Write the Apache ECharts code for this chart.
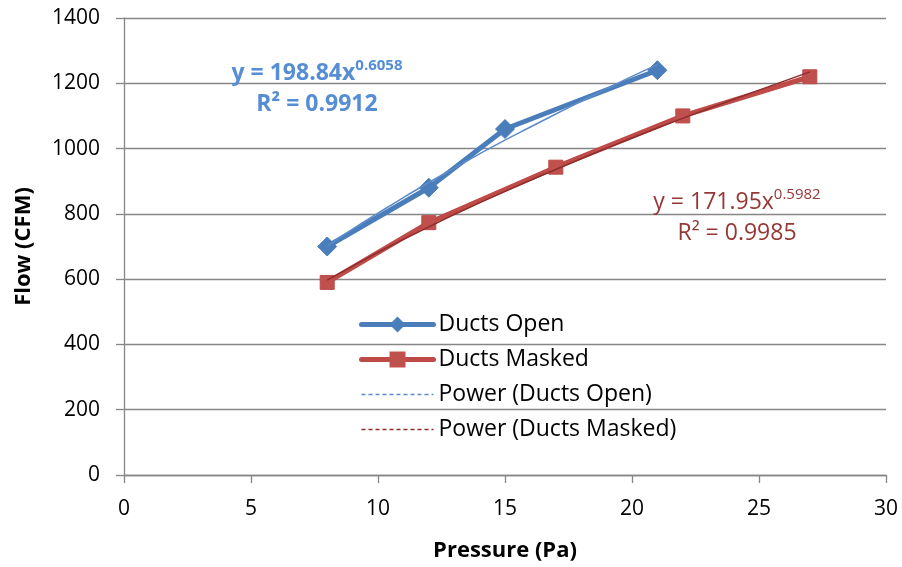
<!DOCTYPE html>
<html>
<head>
<meta charset="utf-8">
<script src="https://cdn.jsdelivr.net/npm/echarts@6/dist/echarts.min.js"></script>
<style>html,body{margin:0;padding:0;background:#fff}#c{width:902px;height:567px}</style>
</head>
<body>
<div id="c"></div>
<script>
// Data
var openX = [8, 12, 15, 21];
var openY = [700, 880, 1060, 1240];
var maskedX = [8, 12, 17, 22, 27];
var maskedY = [590, 773, 943, 1100, 1220];
// Power trendlines
var trendOpenX = [8, 9, 10, 11, 12, 13, 14, 15, 16, 17, 18, 19, 20, 21];
var trendOpenY = [701, 753, 802, 850, 896, 940, 984, 1026, 1066, 1106, 1145, 1183, 1221, 1257];
var trendMaskedX = [8, 9, 10, 11, 12, 13, 15, 17, 19, 21, 23, 25, 27];
var trendMaskedY = [597, 640, 682, 722, 760, 798, 869, 936, 1001, 1063, 1122, 1179, 1235];
var xTicks = [0, 5, 10, 15, 20, 25, 30];
var yTicks = [0, 200, 400, 600, 800, 1000, 1200, 1400];
var seriesNames = ['Ducts Open', 'Ducts Masked', 'Power (Ducts Open)', 'Power (Ducts Masked)'];

function pairs(xs, ys) { return xs.map(function (x, i) { return [x, ys[i]]; }); }

var FONT = 'Open Sans';
var chart = echarts.init(document.getElementById('c'), null, { renderer: 'canvas' });
chart.setOption({
  animation: false,
  backgroundColor: '#fff',
  textStyle: { fontFamily: FONT },
  grid: { left: 124, right: 16, top: 18, bottom: 90, containLabel: false },
  xAxis: {
    type: 'value', min: xTicks[0], max: xTicks[xTicks.length - 1], interval: 5,
    name: 'Pressure (Pa)', nameLocation: 'middle', nameGap: 65,
    nameTextStyle: { fontFamily: FONT, fontSize: 22, fontWeight: 'bold', color: '#000' },
    axisLine: { show: true, onZero: false, lineStyle: { color: '#868686', width: 1.3 } },
    axisTick: { show: true, inside: false, length: 8, lineStyle: { color: '#868686', width: 1.3 } },
    axisLabel: { margin: 24, fontFamily: FONT, fontSize: 21, color: '#000', formatter: function (v) { return String(v); } },
    splitLine: { show: false }
  },
  yAxis: {
    type: 'value', min: yTicks[0], max: yTicks[yTicks.length - 1], interval: 200,
    name: 'Flow (CFM)', nameLocation: 'middle', nameGap: 89, nameRotate: 90,
    nameTextStyle: { fontFamily: FONT, fontSize: 22, fontWeight: 'bold', color: '#000' },
    axisLine: { show: true, lineStyle: { color: '#868686', width: 1.3 } },
    axisTick: { show: true, inside: false, length: 8, lineStyle: { color: '#868686', width: 1.3 } },
    axisLabel: { margin: 24, fontFamily: FONT, fontSize: 21, color: '#000', formatter: function (v) { return String(v); } },
    splitLine: { show: true, lineStyle: { color: '#868686', width: 1.3 } }
  },
  legend: {
    orient: 'vertical', left: 354, top: 308,
    itemWidth: 72, itemHeight: 20, itemGap: 12,
    textStyle: { fontFamily: FONT, fontSize: 23, color: '#000' },
    data: [
      { name: seriesNames[0], lineStyle: { width: 5, cap: 'round' } },
      { name: seriesNames[1], lineStyle: { width: 5, cap: 'round' } },
      { name: seriesNames[2], lineStyle: { type: [4, 3], width: 1.5 }, itemStyle: { opacity: 0 } },
      { name: seriesNames[3], lineStyle: { type: [4, 3], width: 1.5 }, itemStyle: { opacity: 0 } }
    ]
  },
  series: [
    {
      name: seriesNames[0], type: 'line', data: pairs(openX, openY),
      symbol: 'diamond', symbolSize: 19,
      lineStyle: { color: '#4A7EBB', width: 5 },
      itemStyle: { color: '#4A7EBB', borderColor: '#4A7EBB' }, z: 2
    },
    {
      name: seriesNames[1], type: 'line', data: pairs(maskedX, maskedY),
      symbol: 'rect', symbolSize: 14,
      lineStyle: { color: '#BE4B48', width: 5 },
      itemStyle: { color: '#C0504D', borderColor: '#BE4B48' }, z: 2
    },
    {
      name: seriesNames[2], type: 'line', data: pairs(trendOpenX, trendOpenY),
      symbol: 'none', smooth: true,
      lineStyle: { color: '#5B8BC9', width: 1.5 }, itemStyle: { color: '#5B8BC9' }, z: 3
    },
    {
      name: seriesNames[3], type: 'line', data: pairs(trendMaskedX, trendMaskedY),
      symbol: 'none', smooth: true,
      lineStyle: { color: '#8E2E2C', width: 1.5 }, itemStyle: { color: '#8E2E2C' }, z: 3
    }
  ],
  graphic: [
    {
      type: 'text', x: 317, y: 58, z: 10,
      style: {
        text: '{a|y = 198.84x}{b|0.6058}\n{a|R² = 0.9912}',
        align: 'center',
        fill: '#558ED5',
        rich: {
          a: { fontFamily: FONT, fontSize: 23, fontWeight: 'bold', fill: '#558ED5', lineHeight: 31 },
          b: { fontFamily: FONT, fontSize: 15, fontWeight: 'bold', fill: '#558ED5', lineHeight: 31, padding: [0, 0, 15, 0] }
        }
      }
    },
    {
      type: 'text', x: 737, y: 187, z: 10,
      style: {
        text: '{a|y = 171.95x}{b|0.5982}\n{a|R² = 0.9985}',
        align: 'center',
        fill: '#953735',
        rich: {
          a: { fontFamily: FONT, fontSize: 23, fill: '#953735', lineHeight: 31 },
          b: { fontFamily: FONT, fontSize: 15, fill: '#953735', lineHeight: 31, padding: [0, 0, 15, 0] }
        }
      }
    }
  ]
});
</script>
</body>
</html>
